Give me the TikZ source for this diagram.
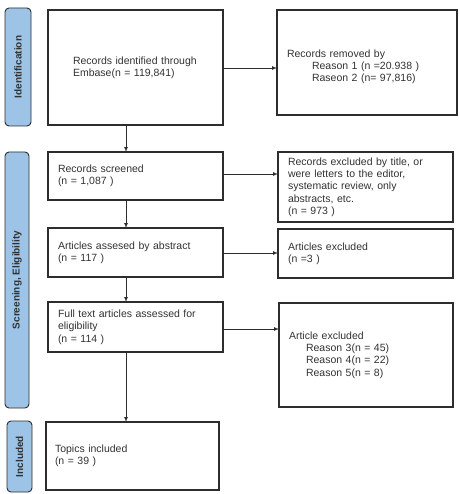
\documentclass[tikz,border=0pt]{standalone}
\usepackage{fontspec}
\setmainfont{Liberation Sans}
\usepackage{tikz}
\usetikzlibrary{shapes,arrows,positioning}

\definecolor{phaseblue}{RGB}{157,195,230}
\definecolor{edgegray}{RGB}{45,45,45}
\definecolor{textgray}{RGB}{50,50,50}

\begin{document}
\begin{tikzpicture}[
    x=1pt, y=-1pt,
    box/.style={draw=edgegray, line width=1.1pt, anchor=north west, align=left,
        inner ysep=0pt, outer sep=0pt, text=textgray,
        font=\fontsize{10.5}{12.3}\selectfont},
    phase/.style={draw=edgegray, line width=0.9pt, fill=phaseblue, rounded corners=4pt,
        rotate=90, inner sep=0pt, text=textgray, font=\bfseries\fontsize{10}{11}\selectfont},
    arrow/.style={line width=0.7pt, draw=edgegray, ->, >=latex}
]
\useasboundingbox (0,0) rectangle (459,494);

% phases on the left
\node (idphase) [phase, minimum width=118pt, minimum height=26pt] at (18,67) {Identification};
\node (scphase) [phase, minimum width=256pt, minimum height=24pt] at (17,280) {Screening, Eligibility};
\node (inphase) [phase, minimum width=71pt, minimum height=25pt] at (19.5,456.5) {Included};

% main column
\node (ident) [box, text width=125pt, inner xsep=25pt, minimum height=115pt] at (48,10)
    {Records identified through\\Embase(n = 119,841)};
\node (screened) [box, text width=155pt, inner xsep=10pt, minimum height=48pt] at (48,152)
    {Records screened\\(n = 1,087 )};
\node (abstract) [box, text width=155pt, inner xsep=10pt, minimum height=49pt] at (48,228)
    {Articles assesed by abstract\\(n = 117 )};
\node (fulltext) [box, text width=155pt, inner xsep=10pt, minimum height=50pt] at (48,302)
    {Full text articles assessed for\\eligibility\\(n = 114 )};
\node (included) [box, text width=155pt, inner xsep=9pt, minimum height=68pt] at (46,422)
    {Topics included\\(n = 39 )};

% exclusions on the right
\node (removed) [box, text width=160pt, inner xsep=10pt, minimum height=105pt] at (277,10)
    {\mbox{}\\[4pt]Records removed by\\\hspace*{25pt}Reason 1 (n =20.938 )\\\hspace*{25pt}Raseon 2 (n= 97,816)};
\node (excltitle) [box, text width=155pt, inner xsep=10pt, minimum height=70pt] at (278,152)
    {Records excluded by title, or\\were letters to the editor,\\systematic review, only\\abstracts, etc.\\(n = 973 )};
\node (exclabs) [box, text width=155pt, inner xsep=10pt, minimum height=49pt] at (278,229)
    {Articles excluded\\(n =3 )};
\node (exclfull) [box, text width=154pt, inner xsep=10pt, minimum height=104pt] at (279,303)
    {Article excluded\\\hspace*{17pt}Reason 3(n = 45)\\\hspace*{17pt}Reason 4(n = 22)\\\hspace*{17pt}Reason 5(n = 8)};

\coordinate (trunk) at (126,0);

\draw [arrow] (ident.south -| trunk) -- (screened.north -| trunk);
\draw [arrow] (screened.south -| trunk) -- (abstract.north -| trunk);
\draw [arrow] (abstract.south -| trunk) -- (fulltext.north -| trunk);
\draw [arrow] (fulltext.south -| trunk) -- (included.north -| trunk);

\draw [arrow] ([yshift=-0.5pt]ident.east) -- ([yshift=-0.5pt]ident.east -| removed.west);
\draw [arrow] ([yshift=2pt]screened.east) -- ([yshift=2pt]screened.east -| excltitle.west);
\draw [arrow] ([yshift=-0.5pt]abstract.east) -- ([yshift=-0.5pt]abstract.east -| exclabs.west);
\draw [arrow] ([yshift=-2pt]fulltext.east) -- ([yshift=-2pt]fulltext.east -| exclfull.west);

\end{tikzpicture}
\end{document}
